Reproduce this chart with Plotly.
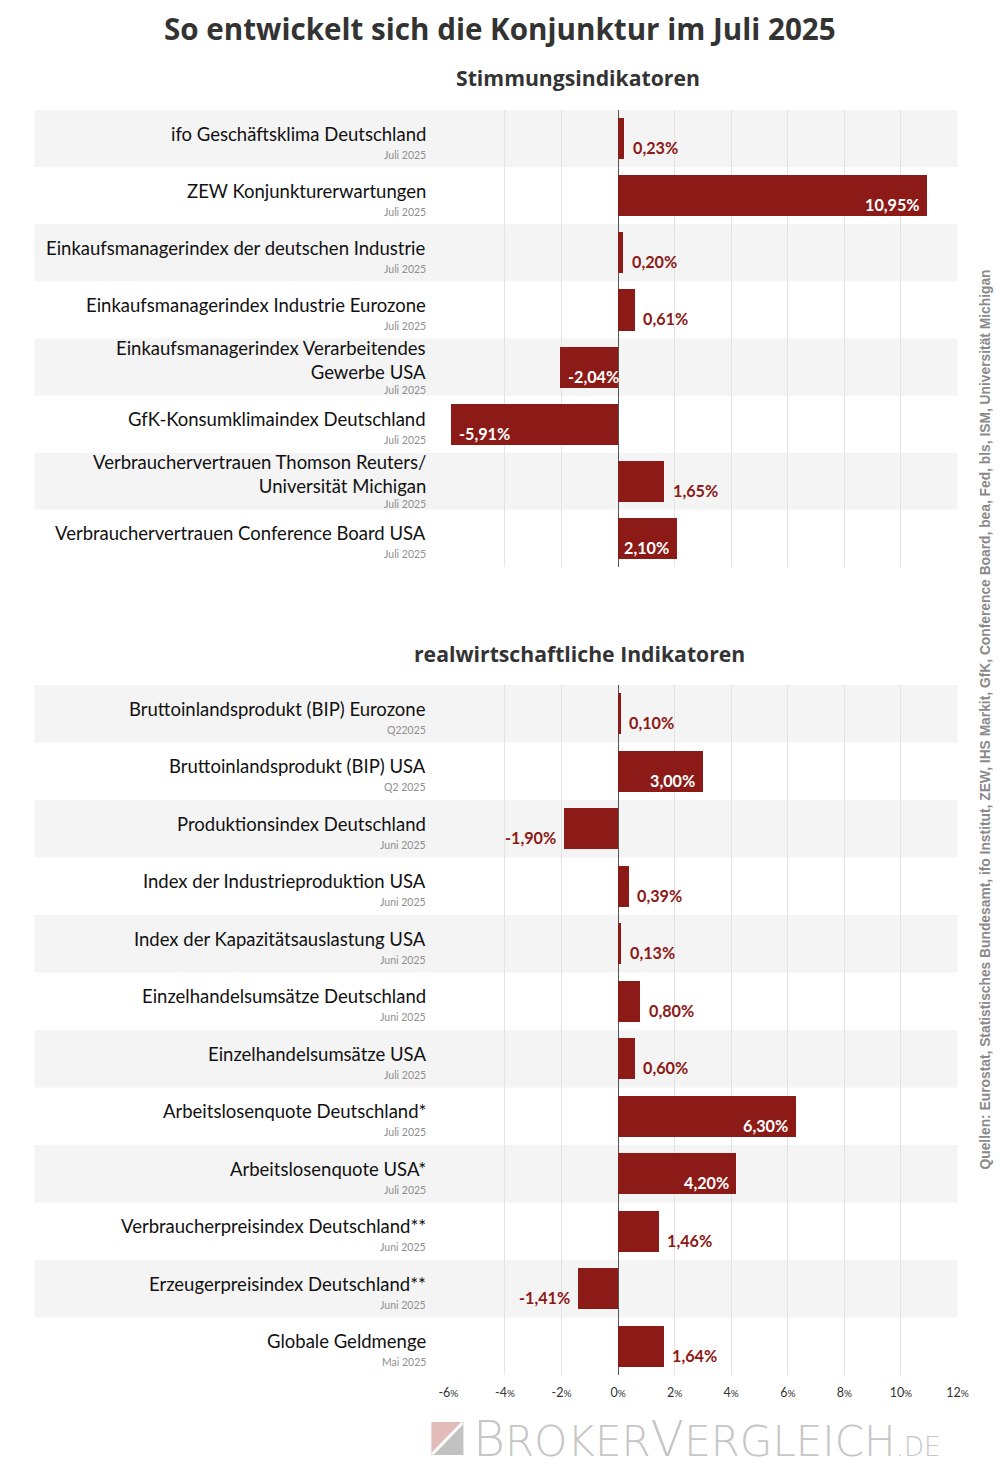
import plotly.graph_objects as go

W, H = 1000, 1474

title = "So entwickelt sich die Konjunktur im Juli 2025"
top_title = "Stimmungsindikatoren"
bottom_title = "realwirtschaftliche Indikatoren"

top_labels = [
    "ifo Geschäftsklima Deutschland",
    "ZEW Konjunkturerwartungen",
    "Einkaufsmanagerindex der deutschen Industrie",
    "Einkaufsmanagerindex Industrie Eurozone",
    "Einkaufsmanagerindex Verarbeitendes<br>Gewerbe USA",
    "GfK-Konsumklimaindex Deutschland",
    "Verbrauchervertrauen Thomson Reuters/<br>Universität Michigan",
    "Verbrauchervertrauen Conference Board USA",
]
top_dates = ["Juli 2025"] * 8
top_values = [0.23, 10.95, 0.20, 0.61, -2.04, -5.91, 1.65, 2.10]

bottom_labels = [
    "Bruttoinlandsprodukt (BIP) Eurozone",
    "Bruttoinlandsprodukt (BIP) USA",
    "Produktionsindex Deutschland",
    "Index der Industrieproduktion USA",
    "Index der Kapazitätsauslastung USA",
    "Einzelhandelsumsätze Deutschland",
    "Einzelhandelsumsätze USA",
    "Arbeitslosenquote Deutschland*",
    "Arbeitslosenquote USA*",
    "Verbraucherpreisindex Deutschland**",
    "Erzeugerpreisindex Deutschland**",
    "Globale Geldmenge",
]
bottom_dates = ["Q22025", "Q2 2025", "Juni 2025", "Juni 2025", "Juni 2025", "Juni 2025",
                "Juli 2025", "Juli 2025", "Juli 2025", "Juni 2025", "Juni 2025", "Mai 2025"]
bottom_values = [0.10, 3.00, -1.90, 0.39, 0.13, 0.80, 0.60, 6.30, 4.20, 1.46, -1.41, 1.64]

tick_vals = [-6, -4, -2, 0, 2, 4, 6, 8, 10, 12]
tick_text = ["-6%", "-4%", "-2%", "0%", "2%", "4%", "6%", "8%", "10%", "12%"]

source = ("Quellen: Eurostat, Statistisches Bundesamt, ifo Institut, ZEW, IHS Markit, GfK, "
          "Conference Board, bea, Fed, bls, ISM, Universität Michigan")

BAR = "#8c1a17"
BAND = "#f4f4f4"
GRID = "#e3e3e3"
LABEL_FONT = "Lato"


def py(p):
    return 1 - p / H


def px(p):
    # horizontal placement helper (pixel position -> paper fraction)
    return (p - 11.5) / 977.0


fig = go.Figure()

panels = [
    (top_labels, top_dates, top_values, "x", "y"),
    (bottom_labels, bottom_dates, bottom_values, "x2", "y2"),
]

annotations = []
shapes = []
for labels, dates, values, xa, ya in panels:
    n = len(labels)
    idx = list(range(n))
    fig.add_trace(go.Bar(
        x=values, y=idx, orientation="h", xaxis=xa, yaxis=ya,
        width=0.72, marker=dict(color=BAR, line=dict(width=0)),
        hoverinfo="skip", showlegend=False,
    ))
    for i in idx:
        if i % 2 == 0:
            shapes.append(dict(type="rect", xref="paper", yref=ya, x0=px(36), x1=px(957),
                               y0=i - 0.5, y1=i + 0.5, fillcolor=BAND, line=dict(width=0),
                               layer="below"))
        two = "<br>" in labels[i]
        annotations.append(dict(
            x=px(429), xref="paper", y=i, yref=ya, text=labels[i], showarrow=False,
            xanchor="right", yanchor="middle", align="right",
            yshift=7 if two else 5,
            font=dict(family=LABEL_FONT, size=18.5, color="#111111"),
        ))
        annotations.append(dict(
            x=px(429), xref="paper", y=i, yref=ya, text=dates[i], showarrow=False,
            xanchor="right", yanchor="middle", yshift=-23 if two else -16,
            font=dict(family=LABEL_FONT, size=10.5, color="#8f8f8f"),
        ))
        v = values[i]
        txt = f"{v:.2f}".replace(".", ",") + "%"
        inside = abs(v) >= 2
        if v >= 0:
            xanchor = "right" if inside else "left"
            xshift = -6 if inside else 6
        else:
            xanchor = "left" if inside else "right"
            xshift = 6 if inside else -6
        annotations.append(dict(
            x=v, xref=xa, y=i, yref=ya, text=f"<b>{txt}</b>", showarrow=False,
            xanchor=xanchor, yanchor="middle", xshift=xshift, yshift=-9,
            font=dict(family=LABEL_FONT, size=16.2, color="white" if inside else BAR),
        ))

# titles
annotations.append(dict(x=px(500), y=py(28), xref="paper", yref="paper", text=f"<b>{title}</b>",
                        showarrow=False, xanchor="center", yanchor="middle",
                        font=dict(family="Open Sans", size=29.6, color="#333333")))
annotations.append(dict(x=px(578), y=py(77), xref="paper", yref="paper", text=f"<b>{top_title}</b>",
                        showarrow=False, xanchor="center", yanchor="middle",
                        font=dict(family="Open Sans", size=21.2, color="#333333")))
annotations.append(dict(x=px(580), y=py(653), xref="paper", yref="paper", text=f"<b>{bottom_title}</b>",
                        showarrow=False, xanchor="center", yanchor="middle",
                        font=dict(family="Open Sans", size=21.2, color="#333333")))
# source
annotations.append(dict(x=px(986), y=py(719), xref="paper", yref="paper", text=f"<b>{source}</b>",
                        showarrow=False, xanchor="center", yanchor="middle", textangle=-90,
                        font=dict(family="Liberation Sans", size=13.8, color="#8a8a8a")))
# logo
logo = ("B<span style='font-size:42px'>ROKER</span>V<span style='font-size:42px'>ERGLEICH</span>"
        "<span style='font-size:26px'>.DE</span>")
annotations.append(dict(x=px(472), y=py(1439), xref="paper", yref="paper", text=logo,
                        showarrow=False, xanchor="left", yanchor="middle",
                        font=dict(family="DejaVu Sans", size=49, color="#c6c6c6", weight=200)))
shapes.append(dict(type="path", xref="paper", yref="paper",
                   path=f"M {px(432)} {py(1422)} L {px(464)} {py(1422)} L {px(432)} {py(1455)} Z",
                   fillcolor="#e2bcb9", line=dict(width=0), layer="above"))
shapes.append(dict(type="path", xref="paper", yref="paper",
                   path=f"M {px(464)} {py(1422)} L {px(464)} {py(1455)} L {px(432)} {py(1455)} Z",
                   fillcolor="#c2c2c2", line=dict(width=0), layer="above"))
shapes.append(dict(type="line", xref="paper", yref="paper",
                   x0=px(433), y0=py(1454), x1=px(463), y1=py(1423),
                   line=dict(color="white", width=3), layer="above"))

tick_html = [t.replace("%", "<span style='font-size:10px'>%</span>") for t in tick_text]

xcommon = dict(range=[-6, 12], domain=[px(449), px(957)], tickvals=tick_vals, ticktext=tick_html,
               showgrid=True, gridcolor=GRID, gridwidth=1, zeroline=True, zerolinecolor="#555555",
               zerolinewidth=1, showline=False, fixedrange=True,
               tickfont=dict(family=LABEL_FONT, size=12.5, color="#333333"))

fig.update_layout(
    width=W, height=H,
    margin=dict(l=0, r=0, t=0, b=0),
    paper_bgcolor="white", plot_bgcolor="rgba(0,0,0,0)",
    bargap=0,
    xaxis=dict(**xcommon, anchor="y", showticklabels=False),
    yaxis=dict(domain=[py(567), py(110)], range=[7.5, -0.5], showticklabels=False,
               showgrid=False, zeroline=False, fixedrange=True),
    xaxis2=dict(**xcommon, anchor="y2", showticklabels=True, ticks="", ticklabelstandoff=8),
    yaxis2=dict(domain=[py(1375), py(685)], range=[11.5, -0.5], showticklabels=False,
                showgrid=False, zeroline=False, fixedrange=True),
    annotations=annotations,
    shapes=shapes,
    showlegend=False,
)

post = ("document.documentElement.style.overflow='hidden';"
        "document.body.style.margin='0';document.body.style.overflow='hidden';"
        "var gd=document.getElementById('{plot_id}');"
        "Plotly.relayout(gd,{width:%d,height:%d});" % (W, H))

fig.write_html("out.html", post_script=post, config={"responsive": False, "displayModeBar": False})
